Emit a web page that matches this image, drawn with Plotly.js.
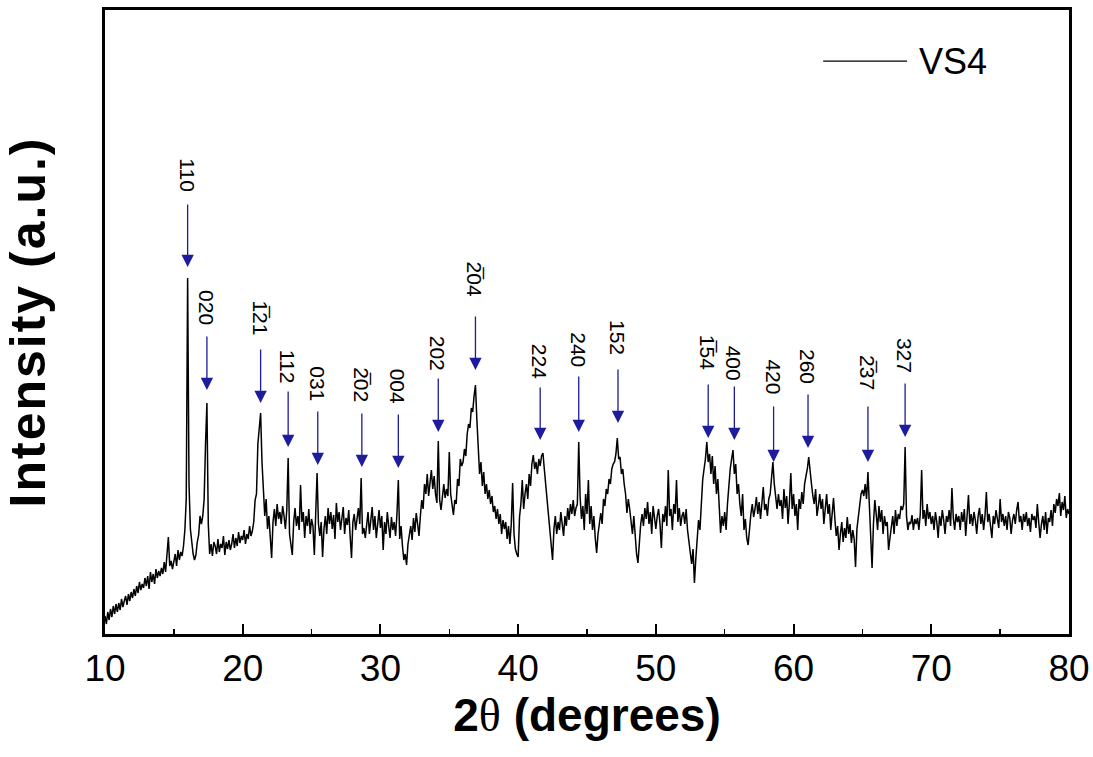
<!DOCTYPE html>
<html>
<head>
<meta charset="utf-8">
<script src="https://cdn.plot.ly/plotly-3.0.1.min.js"></script>
<style>html,body{margin:0;padding:0;background:#fff;}#chart{width:1093px;height:757px;}</style>
</head>
<body>
<div id="chart"></div>
<script>
// ---- DATA ----
// 2-theta grid of the pattern: starts at 10 degrees, step 0.1 degree
const twoThetaStart = 10;
const twoThetaStep = 0.1;
// Intensity (a.u.), one row per degree (10.0 ... 79.9), then 80.0
const intensity = [
  18,10,22,14,25,17,28,20,30,22,      // 10
  31,24,35,27,33,38,29,40,33,42,      // 11
  36,45,38,48,41,52,44,50,46,56,      // 12
  48,58,45,62,52,60,50,65,56,63,      // 13
  58,66,60,72,62,76,97,68,73,65,      // 14
  72,80,68,84,74,82,78,88,104,135,    // 15
  356,150,105,88,80,74,79,92,99,118,  // 16
  110,118,135,190,231,110,80,90,78,92,// 17
  88,80,95,82,90,86,98,79,92,85,      // 18
  94,84,90,100,86,96,88,102,91,98,    // 19
  94,104,90,100,95,108,98,103,112,134,// 20
  140,190,205,221,172,150,118,135,105,118, // 21
  96,76,112,125,108,130,115,122,110,128,   // 22
  118,105,124,176,100,90,79,112,126,108,   // 23
  118,104,149,112,122,96,118,108,125,100,  // 24
  115,108,79,120,161,110,98,112,77,105,    // 25
  118,100,126,110,122,105,119,95,131,112,  // 26
  122,104,118,127,100,116,109,124,98,76,   // 27
  112,120,104,118,126,110,156,100,106,96,  // 28
  110,122,100,116,127,104,118,96,112,124,  // 29
  106,118,84,112,100,122,108,96,117,104,   // 30
  112,98,120,154,95,108,88,74,80,69,       // 31
  90,100,108,94,116,102,121,110,98,118,    // 32
  134,125,150,140,160,138,152,164,145,158, // 33
  140,131,193,134,124,140,150,136,145,138, // 34
  182,140,128,119,134,130,155,148,175,168, // 35
  172,185,178,200,210,206,226,222,238,249, // 36
  215,190,160,172,148,162,140,150,135,144, // 37
  130,138,122,128,115,125,110,120,100,114, // 38
  105,112,95,108,90,110,151,100,85,80,     // 39
  77,117,130,154,125,140,150,135,160,148,  // 40
  170,179,165,172,160,175,168,178,181,165, // 41
  150,140,124,110,95,74,105,118,100,112,   // 42
  104,122,110,98,118,108,126,114,130,120,  // 43
  134,118,126,130,192,137,115,128,104,140, // 44
  120,154,110,128,104,118,96,81,100,112,   // 45
  121,110,135,128,145,140,155,150,165,170, // 46
  172,180,196,175,177,160,165,150,140,121, // 47
  135,125,110,100,118,92,80,71,95,110,     // 48
  120,108,126,115,132,110,122,100,128,116, // 49
  105,118,125,110,86,120,112,128,108,164,  // 50
  118,125,104,130,120,154,112,126,108,118, // 51
  122,110,125,104,92,80,70,85,51,75,       // 52
  95,114,104,130,154,165,175,192,172,180,  // 53
  160,178,150,168,140,155,125,101,118,108, // 54
  122,104,130,150,165,175,184,160,170,140, // 55
  150,130,118,140,104,115,96,89,110,120,   // 56
  130,117,125,137,120,132,115,128,147,124, // 57
  130,118,135,140,155,172,150,138,125,140, // 58
  128,134,115,145,126,138,110,132,161,125, // 59
  140,118,130,104,135,125,142,130,150,158, // 60
  165,177,160,150,138,130,145,118,128,140, // 61
  125,135,110,128,140,120,130,104,122,136, // 62
  115,98,108,84,100,112,92,106,96,117,     // 63
  100,110,91,104,95,67,105,118,134,140,    // 64
  144,138,150,135,162,125,100,66,110,134,  // 65
  120,104,128,112,124,100,118,108,112,84,  // 66
  96,110,118,100,124,108,120,115,128,124,  // 67
  130,187,118,104,112,110,119,104,115,110, // 68
  116,104,120,164,115,124,108,130,115,122, // 69
  110,118,104,122,112,96,118,108,124,114,  // 70
  100,118,112,124,108,146,116,104,120,112, // 71
  118,104,122,112,125,98,116,139,110,120,  // 72
  108,122,114,100,118,126,110,120,104,118, // 73
  142,112,120,104,96,118,110,124,112,106,  // 74
  135,112,120,108,118,104,122,116,100,114, // 75
  120,110,124,132,112,118,104,120,112,122, // 76
  108,116,102,120,114,118,106,130,112,96,  // 77
  110,118,104,122,100,116,112,124,108,130, // 78
  121,135,128,141,118,132,124,138,116,125, // 79
  120                                      // 80
];
const seriesName = 'VS4';

// Indexed reflections (hkl) and their 2-theta positions
const hklLabels = ['110','020','1\u030521','112','031','2\u030502','004','202','2\u030504',
                   '224','240','152','1\u030554','400','420','260','2\u030537','327'];
const hklTwoTheta = [16.0,17.4,21.3,23.3,25.45,28.65,31.3,34.2,36.9,
                     41.6,44.4,47.25,53.8,55.7,58.55,61.05,65.4,68.1];

const xTickValues = [10,20,30,40,50,60,70,80];

// ---- LAYOUT HELPERS (positions of marker arrows / labels, in intensity units) ----
const arrowTip  = [367,244,231,187,169,167,166,202,264,194,202,211,196,194,172,186,172,197];
const arrowTail = [431,299,286,244,224,222,221,257,319,248,259,266,251,249,229,241,229,252];
const labelMid  = [459,326,316,268,250,249,248,281,355,273,284,296,282,271,257,268,261,279];

const arrowColor = '#1c1c9c';
const annotations = [];
hklLabels.forEach(function(lbl, i){
  annotations.push({
    x: hklTwoTheta[i], y: arrowTip[i], xref: 'x', yref: 'y',
    ax: hklTwoTheta[i], ay: arrowTail[i], axref: 'x', ayref: 'y',
    text: '', showarrow: true, arrowhead: 2, arrowsize: 1.9, arrowwidth: 1.3,
    arrowcolor: arrowColor
  });
  annotations.push({
    x: hklTwoTheta[i], y: labelMid[i], xref: 'x', yref: 'y',
    text: lbl, showarrow: false, textangle: 90,
    xanchor: 'center', yanchor: 'middle',
    font: {family: 'Liberation Sans, Arial', size: 21, color: '#000'}
  });
});
// legend text
annotations.push({
  x: 0.842, y: 0.918, xref: 'paper', yref: 'paper', xanchor: 'left', yanchor: 'middle',
  text: seriesName, showarrow: false,
  font: {family: 'Liberation Sans, Arial', size: 36, color: '#000'}
});

const trace = {
  type: 'scatter', mode: 'lines', name: seriesName,
  x0: twoThetaStart, dx: twoThetaStep, y: intensity,
  line: {color: '#000', width: 1.5},
  showlegend: false
};

const layout = {
  width: 1093, height: 757,
  margin: {l: 105, r: 24, t: 10, b: 123},
  paper_bgcolor: '#fff', plot_bgcolor: '#fff',
  showlegend: false,
  xaxis: {
    range: [10, 80], tickvals: xTickValues, ticktext: xTickValues.map(String),
    ticks: 'inside', ticklen: 10, tickwidth: 2, tickcolor: '#000',
    minor: {dtick: 5, tick0: 0, ticks: 'inside', ticklen: 5, tickwidth: 1.5, tickcolor: '#000'},
    showline: true, linecolor: '#000', linewidth: 3, mirror: true,
    showgrid: false, zeroline: false,
    tickfont: {family: 'Liberation Sans, Arial', size: 37, color: '#000'},
    title: {text: '2<span style="font-weight:normal;font-family:\'Liberation Serif\'">\u03b8</span> (degrees)',
            font: {family: 'Liberation Sans, Arial', size: 46, weight: 'bold', color: '#000'}, standoff: 6}
  },
  yaxis: {
    range: [0, 624], showticklabels: false, ticks: '',
    showline: true, linecolor: '#000', linewidth: 3, mirror: true,
    showgrid: false, zeroline: false,
    title: {text: '<span style="letter-spacing:2px">Intensity (a.u.)</span>',
            font: {family: 'Liberation Sans, Arial', size: 50, weight: 'bold', color: '#000'}, standoff: 47}
  },
  shapes: [{
    type: 'line', xref: 'paper', yref: 'paper', x0: 0.745, x1: 0.832, y0: 0.918, y1: 0.918,
    line: {color: '#000', width: 1.3}
  }],
  annotations: annotations
};

Plotly.newPlot('chart', [trace], layout, {displayModeBar: false, staticPlot: true});
</script>
</body>
</html>
